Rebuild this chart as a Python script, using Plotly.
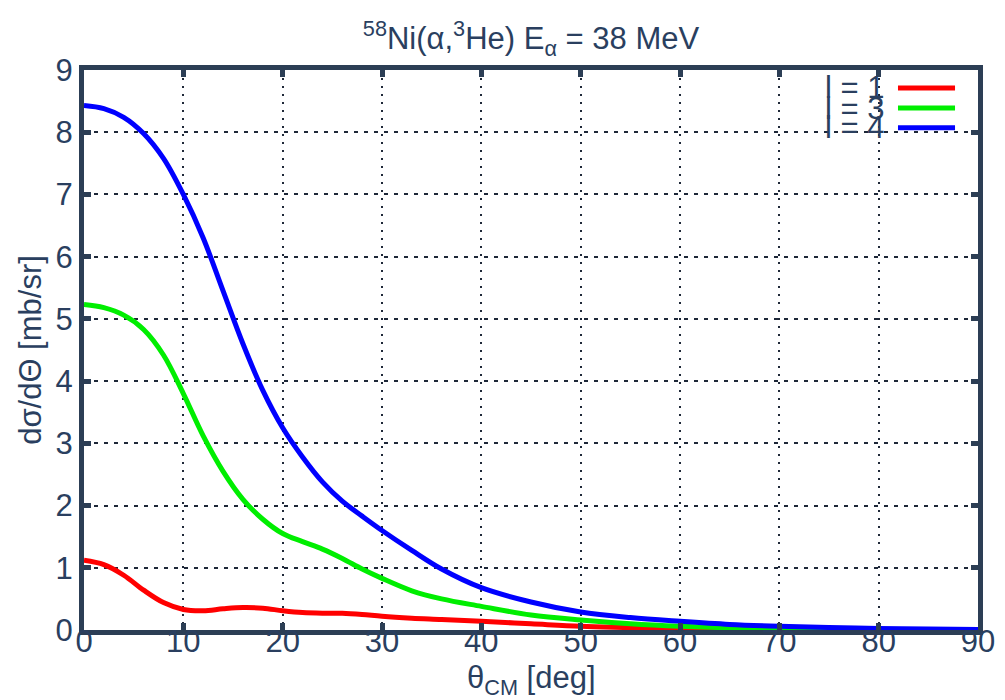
import plotly.graph_objects as go

# Scattering angle grid (deg) shared by the three curves
theta = [0, 2, 4, 6, 8, 10, 12, 14, 16, 18, 20, 22, 24, 26, 28, 30, 33, 36,
         40, 45, 50, 55, 60, 65, 70, 75, 80, 85, 90]

# Differential cross sections (mb/sr) for each transferred l
xs_l1 = [1.12, 1.05, 0.88, 0.64, 0.44, 0.33, 0.31, 0.34, 0.36, 0.35, 0.31, 0.28,
         0.27, 0.27, 0.25, 0.22, 0.19, 0.17, 0.14, 0.10, 0.06, 0.04, 0.02, 0.015,
         0.01, 0.006, 0.004, 0.002, 0.001]
xs_l3 = [5.23, 5.18, 5.06, 4.83, 4.42, 3.80, 3.12, 2.55, 2.10, 1.78, 1.55, 1.42,
         1.30, 1.15, 0.98, 0.83, 0.63, 0.50, 0.38, 0.24, 0.16, 0.10, 0.06, 0.035,
         0.02, 0.015, 0.01, 0.005, 0.003]
xs_l4 = [8.43, 8.38, 8.24, 7.98, 7.58, 7.00, 6.30, 5.45, 4.60, 3.85, 3.25, 2.78,
         2.38, 2.07, 1.83, 1.60, 1.28, 0.98, 0.68, 0.45, 0.29, 0.20, 0.14, 0.09,
         0.06, 0.04, 0.025, 0.015, 0.01]

series_names = ["l = 1", "l = 3", "l = 4"]
series_values = [xs_l1, xs_l3, xs_l4]
series_colors = ["#ff0000", "#00ee00", "#0000ff"]

x_ticks = list(range(0, 91, 10))
y_ticks = list(range(0, 10))

FONT = "Liberation Sans, Arial, sans-serif"
TEXT = "#2a3f5f"
FRAME = "#2c3e55"
GRID = "#1e2838"

fig = go.Figure()
for name, vals, col in zip(series_names, series_values, series_colors):
    fig.add_trace(go.Scatter(
        x=theta, y=vals, name=name, mode="lines",
        line=dict(color=col, width=5, shape="spline", smoothing=1.0),
        showlegend=False,
    ))

# empty trace that attaches the label axis (x2) to the plot
fig.add_trace(go.Scatter(
    x=[theta[0], theta[-1]], y=[None, None], xaxis="x2", mode="lines",
    showlegend=False, hoverinfo="skip",
))

axis_common = dict(
    showline=True, linewidth=5, linecolor=FRAME, mirror="ticks",
    ticks="inside", ticklen=7, tickwidth=5, tickcolor=FRAME,
    showgrid=True, gridcolor=GRID, gridwidth=2,
    zeroline=False, automargin=False,
    tickfont=dict(family=FONT, size=31, color=TEXT),
)

# frame, ticks and grid of the angle axis; its labels come from xaxis2
fig.update_xaxes(
    range=[0, 90], tickvals=x_ticks, showticklabels=False,
    griddash="2px,6px",
    **axis_common,
)
fig.update_yaxes(
    range=[0, 9], tickvals=y_ticks, ticktext=[str(v) for v in y_ticks],
    griddash="4px,6px",
    title=dict(text="dσ/dΘ [mb/sr]", font=dict(family=FONT, size=31, color=TEXT),
               standoff=6),
    **axis_common,
)
fig.update_layout(
    xaxis2=dict(
        overlaying="x", anchor="free", position=0.017, side="bottom",
        range=[0, 90], tickvals=x_ticks, ticktext=[str(v) for v in x_ticks],
        showline=False, ticks="", showgrid=False, zeroline=False, automargin=False,
        tickfont=dict(family=FONT, size=31, color=TEXT),
    )
)

# x-axis title placed just under the tick labels
fig.add_annotation(
    xref="paper", yref="paper", x=0.5, y=-0.09, xanchor="center", yanchor="middle",
    text="θ<sub>CM</sub> [deg]", showarrow=False,
    font=dict(family=FONT, size=31, color=TEXT),
)

# Key: labels stacked tightly with colour samples to the right
key_y = [0.968, 0.932, 0.897]
for name, col, yy in zip(series_names, series_colors, key_y):
    fig.add_annotation(
        xref="paper", yref="paper", x=0.8266, y=yy, xanchor="left", yanchor="middle",
        text=name, showarrow=False, font=dict(family=FONT, size=31, color=TEXT),
    )
    fig.add_shape(
        type="line", xref="paper", yref="paper", x0=0.9105, x1=0.9743, y0=yy, y1=yy,
        line=dict(color=col, width=5),
    )

fig.update_layout(
    width=1005, height=700,
    margin=dict(l=84, r=27, t=70, b=70),
    paper_bgcolor="white", plot_bgcolor="white",
    title=dict(
        text="<sup>58</sup>Ni(α,<sup>3</sup>He) E<sub>α</sub> = 38 MeV",
        x=0.5, xanchor="center", xref="paper", y=0.945, yanchor="middle",
        font=dict(family=FONT, size=31, color=TEXT),
    ),
    showlegend=False,
)

fig.write_html("out.html")
